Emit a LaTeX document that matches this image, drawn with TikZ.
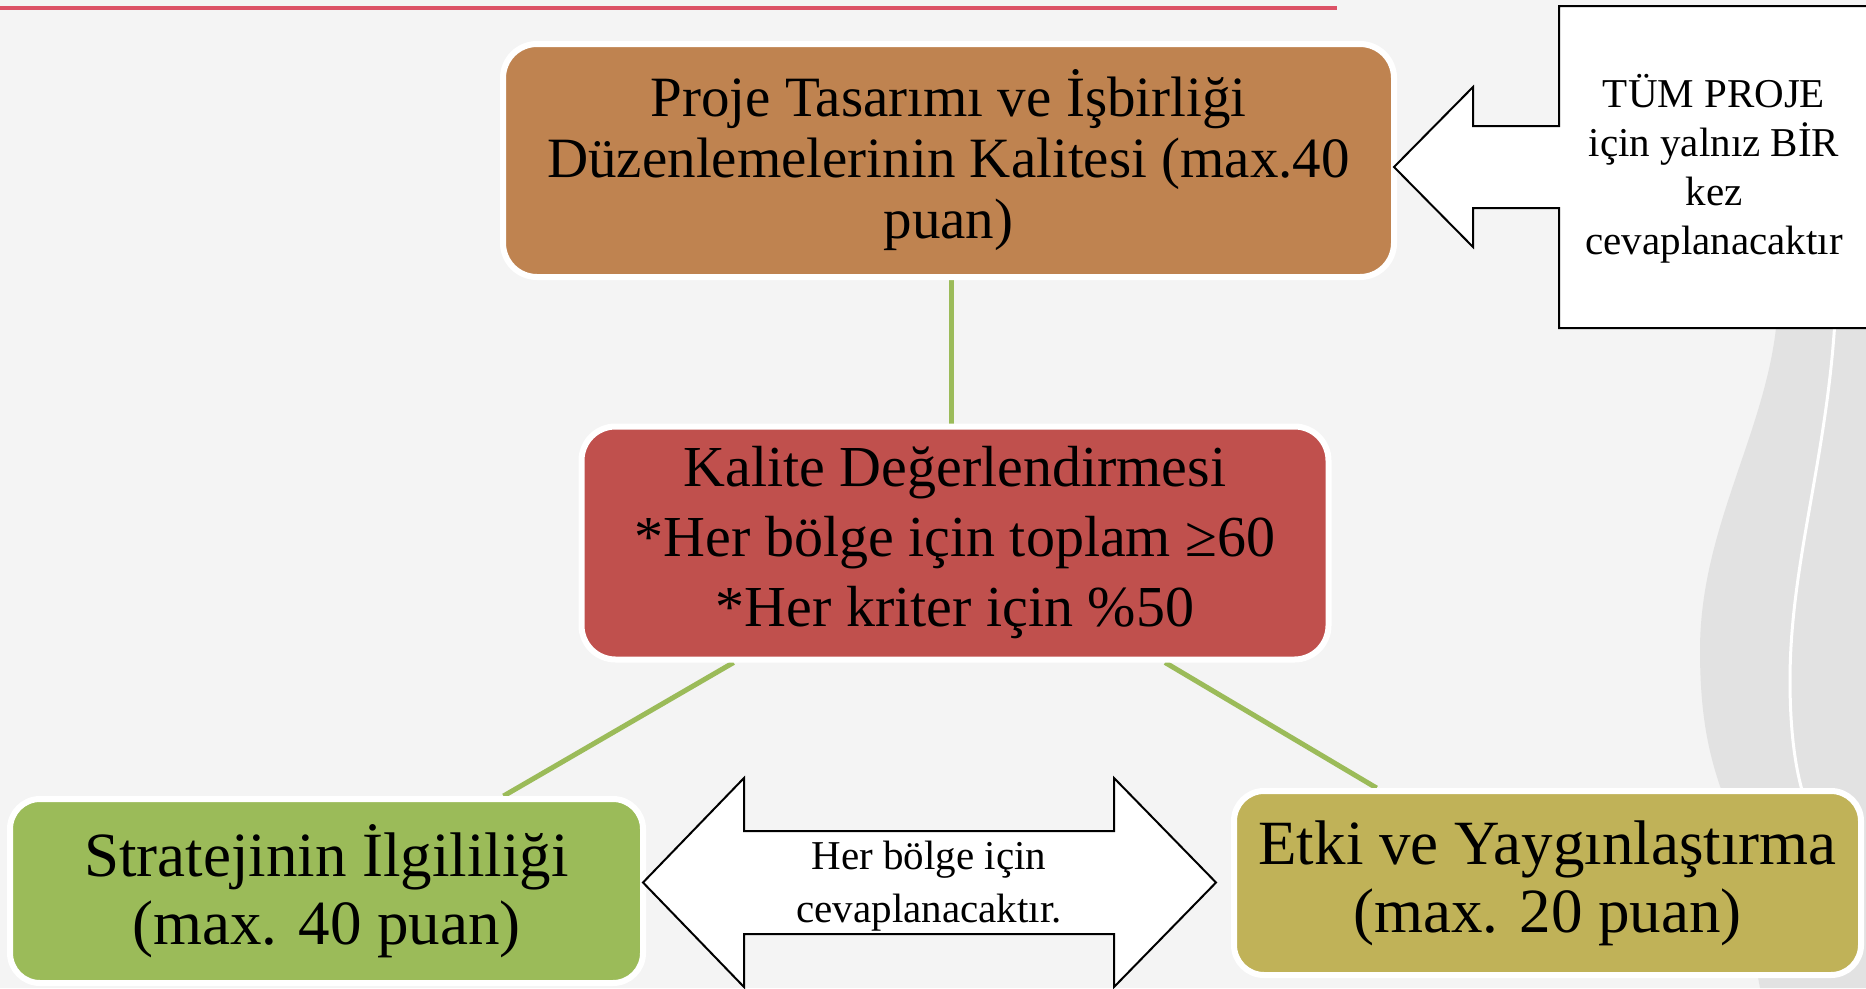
\documentclass[tikz,border=0pt]{standalone}
\usepackage{fontspec}
\setmainfont{Liberation Serif}
\usetikzlibrary{calc}
\definecolor{bgc}{HTML}{F4F4F4}
\definecolor{wavec}{HTML}{E2E2E2}
\definecolor{toplinec}{HTML}{DC5266}
\definecolor{brownc}{HTML}{BF8350}
\definecolor{redc}{HTML}{C0504D}
\definecolor{greenc}{HTML}{9BBB59}
\definecolor{olivec}{HTML}{C0B258}
\pgfdeclarelayer{bg}
\pgfdeclarelayer{lines}
\pgfsetlayers{bg,lines,main}
\tikzset{
  box/.style={draw=white, line width=6pt, rounded corners=34pt, align=center, inner sep=0pt, text=black},
  conn/.style={draw=greenc, line width=5pt},
  outline/.style={draw=black, line width=2pt, fill=white, line join=miter},
  note/.style={align=center, text=black, inner sep=0pt},
}
\begin{document}
\begin{tikzpicture}[x=1pt,y=-1pt]
\useasboundingbox (0,0) rectangle (1866,988);
\begin{scope}
\clip (0,0) rectangle (1866,988);
\begin{pgfonlayer}{bg}
  \fill[bgc] (0,0) rectangle (1866,988);
  \fill[wavec] (1778,300) .. controls (1775,420) and (1700,520) .. (1700,650)
     .. controls (1700,720) and (1710,760) .. (1725,800) -- (1760,988) -- (1866,988) -- (1866,300) -- cycle;
  \draw[white, line width=3pt] (1836,300) .. controls (1830,450) and (1790,560) .. (1790,680)
     .. controls (1790,730) and (1795,770) .. (1805,800);
  \draw[toplinec, line width=4pt] (0,8) -- (1337,8);
\end{pgfonlayer}

\node[box, fill=brownc, minimum width=891pt, minimum height=233pt,
      font=\fontsize{57}{61}\selectfont] (quality) at (948.5,160.5)
  {Proje Tasarımı ve İşbirliği\\Düzenlemelerinin Kalitesi (max.40\\puan)};
\node[box, fill=redc, minimum width=747pt, minimum height=233pt,
      font=\fontsize{58}{70}\selectfont] (assess) at (955,543)
  {Kalite Değerlendirmesi\\{*}Her bölge için toplam ≥60\\{*}Her kriter için \%50};
\node[box, fill=greenc, minimum width=633pt, minimum height=184pt, rounded corners=30pt,
      font=\fontsize{63}{68}\selectfont] (strategy) at (326.5,891)
  {Stratejinin İlgililiği\\(max. 40 puan)};
\node[box, fill=olivec, minimum width=627pt, minimum height=184pt, rounded corners=30pt,
      font=\fontsize{63}{68}\selectfont] (impact) at (1547.5,883)
  {Etki ve Yaygınlaştırma\\(max. 20 puan)};

\begin{pgfonlayer}{lines}
  \draw[conn] ([xshift=3pt]quality.south) -- ([xshift=3pt]quality.south |- assess.north);
  \draw[conn] ($(assess.south west)!0.206!(assess.south east)$) -- ($(strategy.north west)!0.777!(strategy.north east)$);
  \draw[conn] ($(assess.south west)!0.779!(assess.south east)$) -- ($(impact.north west)!0.23!(impact.north east)$);
\end{pgfonlayer}

% left arrow callout
\draw[outline] (1559,6) -- (1875,6) -- (1875,328) -- (1559,328) -- (1559,208) -- (1473,208)
  -- (1473,247) -- (1394,167) -- (1473,87) -- (1473,126) -- (1559,126) -- cycle;
\node[note, font=\fontsize{41}{49}\selectfont] (once) at (1714,169)
  {TÜM PROJE\\için yalnız BİR\\kez\\cevaplanacaktır};

% double arrow
\draw[outline] (643,882.5) -- (744,778) -- (744,831) -- (1114,831) -- (1114,778) -- (1216,882.5)
  -- (1114,987) -- (1114,934) -- (744,934) -- (744,987) -- cycle;
\node[note, font=\fontsize{41}{53}\selectfont] (each) at (929,886)
  {Her bölge için\\cevaplanacaktır.};
\end{scope}
\end{tikzpicture}
\end{document}
